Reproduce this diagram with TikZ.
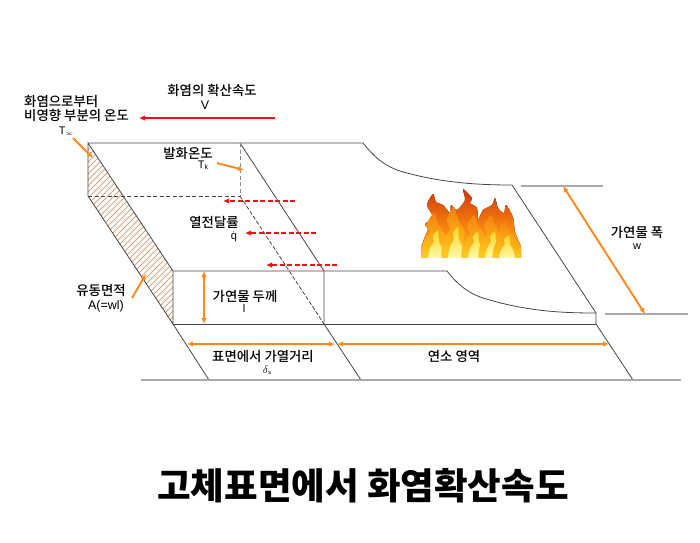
\documentclass[tikz,border=0pt]{standalone}
\usepackage{fontspec}
\usepackage{xcolor}
\setmainfont{Noto Sans CJK KR Medium}
\newfontfamily\latinfont{Liberation Sans}
\newfontfamily\titlefont{Noto Sans CJK KR Black}
\usetikzlibrary{arrows.meta,patterns,calc}
\definecolor{edge}{RGB}{70,70,70}
\definecolor{ground}{RGB}{170,170,170}
\definecolor{fireorange}{RGB}{255,136,26}
\definecolor{firered}{RGB}{254,10,20}
\definecolor{hatchbrown}{RGB}{214,165,125}
\definecolor{flamedark}{RGB}{208,56,8}
\definecolor{flamemid}{RGB}{246,130,16}
\definecolor{flamelight}{RGB}{255,214,30}
\tikzset{
  body/.style={edge, line width=0.8pt},
  hidden/.style={edge, line width=0.8pt, dashed, dash pattern=on 4pt off 2.5pt},
  refline/.style={ground, line width=1.3pt},
  dimarrow/.style={{Latex[length=6pt,width=5.5pt]}-{Latex[length=6pt,width=5.5pt]}, fireorange, line width=1.9pt},
  callout/.style={-{Latex[length=6pt,width=5.5pt]}, fireorange, line width=1.9pt},
  heat/.style={-{Latex[length=6pt,width=5.5pt]}, firered, line width=1.3pt, dash pattern=on 5pt off 2.5pt},
  label/.style={inner sep=0pt, font=\fontsize{13.4}{13.5}\selectfont},
  symb/.style={inner sep=0pt, font=\latinfont\fontsize{12.5}{14}\selectfont},
  tiny/.style={inner sep=0pt, font=\latinfont\fontsize{11}{12}\selectfont},
}
\begin{document}
\begin{tikzpicture}[x=1pt,y=-1pt]
\useasboundingbox (0,0) rectangle (700,542);

% Corners of the fuel bed
\coordinate (backL) at (88,143);
\coordinate (backM) at (240,143);
\coordinate (backR) at (363,143);
\coordinate (burnB) at (512,185);
\coordinate (burnF) at (596,313);
\coordinate (lowL) at (88,196);
\coordinate (lowM) at (240,196);
\coordinate (frontL) at (173,271);
\coordinate (frontM) at (324,271);
\coordinate (frontR) at (447,271);
\coordinate (baseL) at (173,324);
\coordinate (baseM) at (324,324);
\coordinate (baseR) at (596,324);
\coordinate (footL) at (209,380);
\coordinate (footM) at (361,380);
\coordinate (footR) at (633,380);
\coordinate (groundA) at (141,380);
\coordinate (groundB) at (681,380);

% Hatched flow area
\begin{scope}
\clip (backL) -- (frontL) -- (baseL) -- (lowL) -- cycle;
\foreach \hy in {0,6,...,300}
  \draw[hatchbrown, line width=1pt] (80,140+\hy) -- (180,40+\hy);
\end{scope}

% Solid outline
\draw[body] (backL) -- (backR) .. controls (375,158) and (385,166) .. (400,171)
  .. controls (440,183) and (480,185) .. (burnB) -- (burnF) -- (baseR) -- (footR);
\draw[body] (frontL) -- (frontR) .. controls (458,285) and (468,293) .. (483,298)
  .. controls (525,311) and (560,313) .. (burnF);
\draw[body] (backL) -- (frontL) -- (baseL) -- (lowL) -- cycle;
\draw[body] (baseL) -- (baseR);
\draw[body] (baseL) -- (footL);
\draw[body] (backM) -- (frontM) -- (baseM) -- (footM);
\draw[refline] (groundA) -- (groundB);

% Hidden edges
\draw[hidden] (lowL) -- (lowM);
\draw[hidden, ground!70!edge] (backM) -- (lowM);
\draw[hidden, dash pattern=on 4pt off 2pt] (lowM) -- (baseM);

% Width reference lines
\coordinate (widthA) at (521,186);
\coordinate (widthB) at (603,186);
\coordinate (widthC) at (605,314);
\coordinate (widthD) at (688,314);
\draw[refline] (widthA) -- (widthB);
\draw[refline] (widthC) -- (widthD);

% Flame
\begin{scope}
\clip (421,185) rectangle (521,257);
\fill[top color=flamedark, bottom color=flamelight, middle color=flamemid]
  plot[smooth cycle, tension=0.45] coordinates {(421,262) (423,242) (428,229) (425,224) (433,217)
  (427,205) (433,194) (436,202) (443,205) (450,213) (451,205) (457,210) (465,200) (463,189)
  (472,198) (470,203) (477,208) (478,220) (483,210) (492,205) (495,198) (498,208) (504,213)
  (506,205) (513,217) (515,232) (521,247) (521,262)};
\foreach \fx/\fh in {436/44,456/50,476/42,493/42,507/36} {
  \shade[top color=flamemid, bottom color=flamelight] plot[smooth cycle, tension=0.55] coordinates {(\fx-13,260) (\fx-12,257-0.35*\fh)
    (\fx-6,257-0.55*\fh) (\fx-9,257-0.75*\fh) (\fx-2,257-\fh) (\fx+2,257-0.75*\fh) (\fx+9,257-0.5*\fh)
    (\fx+7,257-0.3*\fh) (\fx+12,257-0.1*\fh) (\fx+13,260)};
  \shade[top color=flamelight, bottom color=yellow!25] plot[smooth cycle, tension=0.55] coordinates {(\fx-7,260) (\fx-6,257-0.2*\fh)
    (\fx-2,257-0.35*\fh) (\fx-3,257-0.48*\fh) (\fx+2,257-0.6*\fh) (\fx+3,257-0.35*\fh) (\fx+6,257-0.2*\fh) (\fx+7,260)};
}
\end{scope}

% Red spread arrows
\coordinate (spreadA) at (275,118);
\coordinate (spreadB) at (139,118);
\draw[-{Latex[length=6pt,width=5.5pt]}, firered, line width=1.5pt] (spreadA) -- (spreadB);
\coordinate (heatA) at (295,201);
\coordinate (heatB) at (223,201);
\coordinate (heatC) at (316,233);
\coordinate (heatD) at (245,233);
\coordinate (heatE) at (337,265);
\coordinate (heatF) at (266,265);
\draw[heat] (heatA) -- (heatB);
\draw[heat] (heatC) -- (heatD);
\draw[heat] (heatE) -- (heatF);

% Dimension arrows
\coordinate (thickA) at (204,271);
\coordinate (thickB) at (204,324);
\coordinate (heatLenA) at (187,344);
\coordinate (heatLenB) at (335,344);
\coordinate (burnLenA) at (337,344);
\coordinate (burnLenB) at (609,344);
\coordinate (fuelWA) at (563,186);
\coordinate (fuelWB) at (645,314);
\draw[dimarrow] (thickA) -- (thickB);
\draw[dimarrow] (heatLenA) -- (heatLenB);
\draw[dimarrow] (burnLenA) -- (burnLenB);
\draw[dimarrow] (fuelWA) -- (fuelWB);

% Labels
\node[label] (spreadtxt) at (212,90) {화염의 확산속도};
\node[symb] (spreadV) at (205,105.5) {V};
\node[label, align=left, anchor=west] (ambient) at (24,108.5) {화염으로부터\\비영향 부분의 온도};
\node[tiny] (ambientT) at (66,131) {T\raisebox{-1pt}{\fontsize{6}{6}\selectfont$\infty$}};
\node[label] (ignite) at (188,153) {발화온도};
\node[tiny] (igniteT) at (203,165) {T\raisebox{-1pt}{\fontsize{7}{7}\selectfont k}};
\node[label] (heatflux) at (214,222) {열전달률};
\node[tiny, anchor=north] (fluxq) at (234,232) {q̇};
\node[label] (flowarea) at (101,290) {유동면적};
\node[symb, anchor=east] (flowA) at (124,306) {A(=wl)};
\node[label] (thick) at (245,296) {가연물 두께};
\node[tiny] (thickl) at (244,309) {l};
\node[label] (heatdist) at (263,356) {표면에서 가열거리};
\node[tiny] (deltas) at (267,370) {$\delta$\raisebox{-1pt}{\fontsize{6}{6}\selectfont s}};
\node[label] (burnzone) at (454,356) {연소 영역};
\node[label] (fuelw) at (637,232) {가연물 폭};
\node[tiny] (fuelwsym) at (637,247) {w};

% Callout arrows
\coordinate (calloutA) at (73,138);
\coordinate (calloutB) at (93,158);
\coordinate (calloutC) at (217,163);
\coordinate (calloutD) at (244,170);
\coordinate (calloutE) at (132,298);
\coordinate (calloutF) at (146,274);
\draw[callout] (calloutA) -- (calloutB);
\draw[callout] (calloutC) -- (calloutD);
\draw[callout] (calloutE) -- (calloutF);

% Title
\node[inner sep=0pt, font=\titlefont\fontsize{36.5}{40}\selectfont] (title) at (363,486) {고체표면에서 화염확산속도};
\end{tikzpicture}
\end{document}
